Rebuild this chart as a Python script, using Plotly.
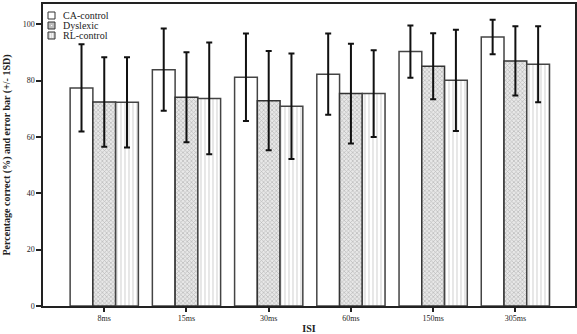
import plotly.graph_objects as go

categories = ["8ms", "15ms", "30ms", "60ms", "150ms", "305ms"]
ca_mean = [77.4, 83.9, 81.2, 82.3, 90.3, 95.5]
ca_sd = [15.5, 14.6, 15.5, 14.4, 9.3, 6.1]
dys_mean = [72.4, 74.1, 72.9, 75.4, 85.1, 87.0]
dys_sd = [15.9, 16.0, 17.6, 17.7, 11.7, 12.3]
rl_mean = [72.3, 73.7, 70.9, 75.4, 80.1, 85.8]
rl_sd = [16.0, 19.8, 18.7, 15.4, 18.0, 13.5]
series_names = ["CA-control", "Dyslexic", "RL-control"]
yticks = [0, 20, 40, 60, 80, 100]

font_family = "Liberation Serif, Times New Roman, serif"

def err(sd):
    return dict(type="data", array=sd, visible=True, color="#111111",
                thickness=2, width=3)

fig = go.Figure()
fig.add_trace(go.Bar(
    name=series_names[0], x=categories, y=ca_mean, error_y=err(ca_sd),
    showlegend=False,
    marker=dict(color="white", line=dict(color="#444444", width=1.5)),
))
fig.add_trace(go.Bar(
    name=series_names[1], x=categories, y=dys_mean, error_y=err(dys_sd),
    showlegend=False,
    marker=dict(color="#e6e6e6", line=dict(color="#333333", width=1.5),
                pattern=dict(shape="x", fgcolor="#8a8a8a", bgcolor="#e8e8e8",
                             size=3, solidity=0.4)),
))
fig.add_trace(go.Bar(
    name=series_names[2], x=categories, y=rl_mean, error_y=err(rl_sd),
    showlegend=False,
    marker=dict(color="white", line=dict(color="#444444", width=1.5),
                pattern=dict(shape="|", fgcolor="#b0b0b0", bgcolor="white",
                             size=4, solidity=0.3)),
))

# compact legend drawn as shapes + text (plot area: 532 x 302 px)
W, H = 532.0, 302.0
sw_x0, sw_x1 = 5 / W, 12 / W
txt_x = 18 / W
row_px = [11.5, 21.5, 31.5]
fills = ["white", "#bdbdbd", "#d4d4d4"]
shapes = []
annotations = []
for name, r, fill in zip(series_names, row_px, fills):
    yc = 1 - r / H
    hh = 3.5 / H
    shapes.append(dict(type="rect", xref="paper", yref="paper",
                       x0=sw_x0, x1=sw_x1, y0=yc - hh, y1=yc + hh,
                       fillcolor=fill, line=dict(color="#333333", width=1)))
    annotations.append(dict(text=name, xref="paper", yref="paper", x=txt_x,
                            y=yc, xanchor="left", yanchor="middle",
                            showarrow=False,
                            font=dict(size=10, color="#222222")))
# inner marks of swatches
yc = 1 - row_px[1] / H
shapes.append(dict(type="rect", xref="paper", yref="paper",
                   x0=8 / W, x1=9.2 / W, y0=yc - 0.6 / H, y1=yc + 0.6 / H,
                   fillcolor="white", line=dict(width=0)))
yc = 1 - row_px[2] / H
for xx in (7.6, 9.4):
    shapes.append(dict(type="line", xref="paper", yref="paper",
                       x0=xx / W, x1=xx / W, y0=yc - 2.5 / H, y1=yc + 2.5 / H,
                       line=dict(color="white", width=0.8)))

fig.update_layout(
    width=577, height=334,
    margin=dict(l=43, r=2, t=4, b=28),
    paper_bgcolor="white", plot_bgcolor="white",
    barmode="group", bargap=0.17, bargroupgap=0,
    showlegend=False,
    font=dict(family=font_family, size=8, color="#222222"),
    shapes=shapes, annotations=annotations,
    xaxis=dict(
        range=[-0.745, 5.725], showline=True, linecolor="#222222", linewidth=1.5,
        mirror=True, ticks="outside", ticklen=4, tickwidth=1.5,
        tickcolor="#222222", showgrid=False, zeroline=False, automargin=False,
        title=dict(text="<b>ISI</b>", font=dict(size=10), standoff=4),
        tickfont=dict(size=8),
    ),
    yaxis=dict(
        range=[0, 107.2], tickvals=yticks, showline=True, linecolor="#222222",
        linewidth=1.5, mirror=True, ticks="outside", ticklen=5, tickwidth=1.5,
        tickcolor="#222222", showgrid=False, zeroline=False, automargin=False,
        title=dict(text="<b>Percentage correct (%) and error bar (+/- 1SD)</b>",
                   font=dict(size=10), standoff=10),
        tickfont=dict(size=8),
    ),
)

fig.write_html("out.html", config={"displayModeBar": False},
               post_script="document.body.style.margin='0px';")
